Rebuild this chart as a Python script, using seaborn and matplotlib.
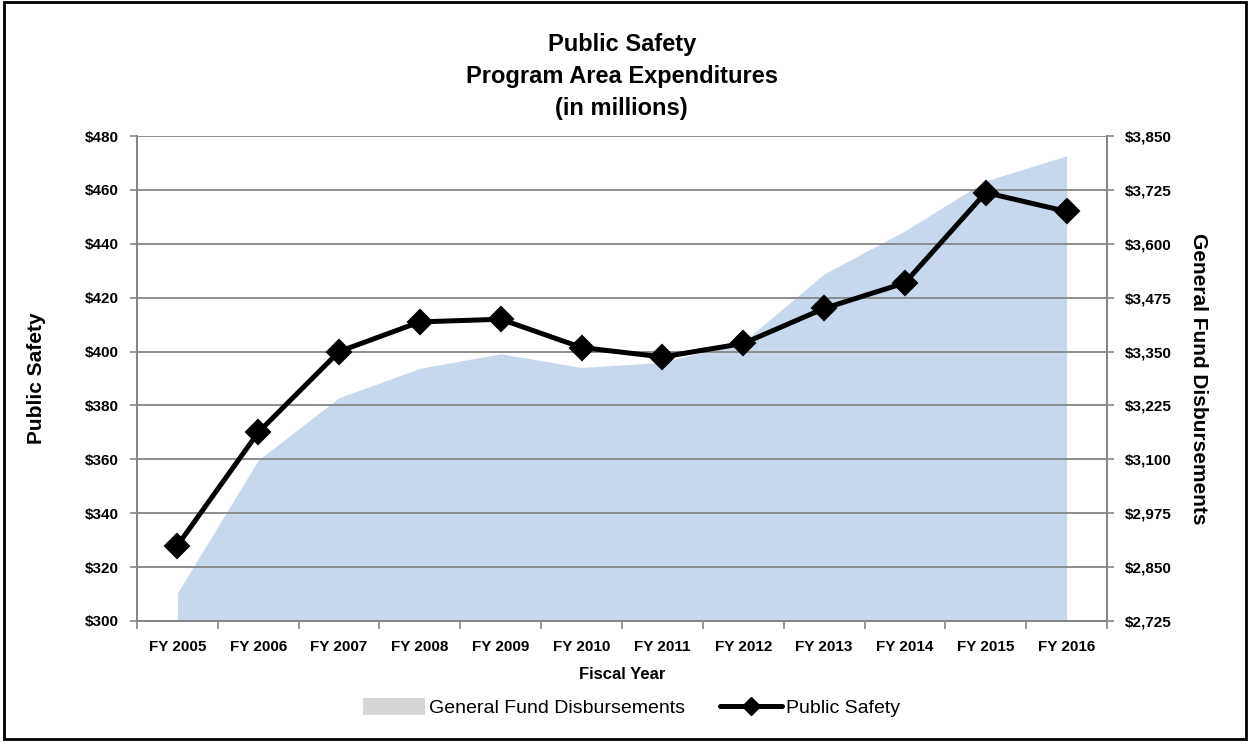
import numpy as np
import matplotlib
matplotlib.use("Agg")
import matplotlib.pyplot as plt
import seaborn as sns
import pandas as pd
from matplotlib.patches import Patch, Rectangle
from matplotlib.lines import Line2D
from matplotlib.ticker import FuncFormatter, MultipleLocator

# datos
years = ["FY 2005", "FY 2006", "FY 2007", "FY 2008", "FY 2009", "FY 2010",
         "FY 2011", "FY 2012", "FY 2013", "FY 2014", "FY 2015", "FY 2016"]
public_safety = [328, 370, 400, 411, 412, 401.5, 398, 403, 416, 425.5, 459, 452]
general_fund = [2790, 3098, 3243, 3311, 3345, 3313, 3325, 3372, 3530, 3630, 3746, 3804]

left_ticks = list(range(300, 481, 20))
right_ticks = list(range(2725, 3851, 125))

sns.set_theme(style="white")
narrow = ["Liberation Sans Narrow", "DejaVu Sans Condensed", "Liberation Sans"]
plt.rcParams["font.family"] = ["Liberation Sans", "DejaVu Sans"]
plt.rcParams["text.color"] = "black"
plt.rcParams["axes.labelcolor"] = "black"
plt.rcParams["xtick.color"] = "black"
plt.rcParams["ytick.color"] = "black"

df = pd.DataFrame({"x": np.arange(len(years)), "ps": public_safety, "gf": general_fund})

fig = plt.figure(figsize=(12.51, 7.42), dpi=100)
ax = fig.add_axes([0.1095, 0.1631, 0.7754, 0.6536])  # escala derecha (area)
ax2 = ax.twinx()                                      # escala izquierda (linea)

grid_col = "#858585"

# area General Fund
ax.fill_between(df["x"], general_fund, right_ticks[0], color="#c8d8ec", lw=0, zorder=1)
ax.set_ylim(right_ticks[0], right_ticks[-1])
ax.set_yticks(right_ticks)
ax.yaxis.tick_right()
ax.yaxis.set_label_position("right")
ax.yaxis.set_major_formatter(FuncFormatter(lambda v, p: f"${v:,.0f}"))
ax.grid(axis="y", color=grid_col, lw=1.3)
ax.set_axisbelow(False)

# linea Public Safety
sns.lineplot(data=df, x="x", y="ps", ax=ax2, color="black", lw=3.6,
             marker="D", markersize=12, markeredgecolor="black", markeredgewidth=1.5,
             legend=False, zorder=5)
ax2.set_ylim(left_ticks[0], left_ticks[-1])
ax2.set_yticks(left_ticks)
ax2.yaxis.tick_left()
ax2.yaxis.set_label_position("left")
ax2.yaxis.set_major_formatter(FuncFormatter(lambda v, p: f"${v:.0f}"))
ax2.grid(False)

for a in (ax, ax2):
    a.spines["top"].set_visible(False)
    for s in ("left", "right", "bottom"):
        a.spines[s].set_color(grid_col)
        a.spines[s].set_linewidth(1.3)
    a.tick_params(axis="y", length=5, width=1.2, color=grid_col, labelsize=11,
                  labelcolor="black", pad=8)
    for lab in a.get_yticklabels():
        lab.set_fontweight("bold")

ax.set_xlim(-0.5, len(years) - 0.5)
ax.set_xticks(np.arange(len(years)))
ax.set_xticklabels(years, fontsize=11, fontweight="bold")
ax.xaxis.set_minor_locator(MultipleLocator(1, offset=0.5))
ax.tick_params(axis="x", which="major", length=0, pad=14, labelcolor="black")
ax.tick_params(axis="x", which="minor", length=6, width=1.2, color=grid_col, bottom=True)

ax.set_xlabel("Fiscal Year", family=narrow, fontsize=12, fontweight="bold", labelpad=9)
ax.set_ylabel("General Fund Disbursements", family=narrow, fontsize=15, fontweight="bold",
              rotation=-90, labelpad=26)
ax2.set_ylabel("Public Safety", family=narrow, fontsize=15, fontweight="bold", labelpad=28)

fig.text(0.497, 0.955, "Public Safety\nProgram Area Expenditures\n(in millions)",
         ha="center", va="top", family=narrow, fontsize=17, fontweight="bold",
         linespacing=1.5)

handles = [Patch(facecolor="#d6d6d6", edgecolor="none"),
           Line2D([], [], color="black", lw=3.6, marker="D", markersize=9)]
fig.legend(handles, ["General Fund Disbursements", "Public Safety"],
           loc="center", bbox_to_anchor=(0.505, 0.046), ncol=2, frameon=False,
           fontsize=14, handlelength=3.2, handleheight=0.9, columnspacing=1.8,
           handletextpad=0.2)

# marco exterior
fig.patches.append(Rectangle((0.003, 0.004), 0.993, 0.993, transform=fig.transFigure,
                             fill=False, edgecolor="black", lw=2))

fig.savefig("out.png", dpi=100)
